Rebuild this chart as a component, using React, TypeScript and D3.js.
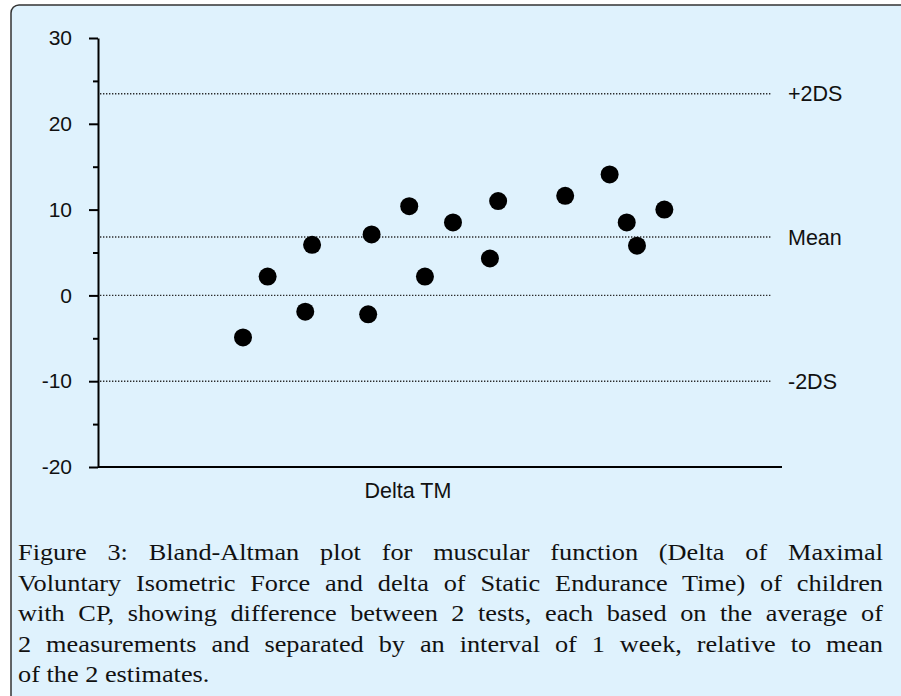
import { useEffect, useRef } from 'react';
import * as d3 from 'd3';

// readings
const diffX = [21.2, 24.8, 30.3, 31.3, 39.5, 40.0, 45.5, 47.8, 51.9, 57.3, 58.5, 68.3, 74.8, 77.3, 78.8, 82.8];
const diffY = [-4.9, 2.2, -1.9, 5.9, -2.2, 7.1, 10.4, 2.2, 8.5, 4.3, 11.0, 11.6, 14.1, 8.5, 5.8, 10.0];

const refNames = ['+2DS', 'Mean', '', '-2DS'];
const refValues = [23.5, 6.8, 0, -10];

const yTicks = [-20, -10, 0, 10, 20, 30];
const yMinor = [-15, -5, 5, 15, 25];

const captionLines = [
  'Figure 3: Bland-Altman plot for muscular function (Delta of Maximal',
  'Voluntary Isometric Force and delta of Static Endurance Time) of children',
  'with CP, showing difference between 2 tests, each based on the average of',
  '2 measurements and separated by an interval of 1 week, relative to mean',
  'of the 2 estimates.',
];

function App() {
  const gy = useRef<SVGGElement>(null);
  const gyMinor = useRef<SVGGElement>(null);
  const caption = useRef<SVGGElement>(null);

  const width = 901;
  const height = 696;

  const marginLeft = 98;
  const marginTop = 38;
  const plotRight = 782;
  const plotBottom = 467;

  const captionLeft = 18;
  const captionWidth = 865;
  const captionStretch = 1.12; // caption font in the original is wider than Times

  const xScale = d3.scaleLinear().domain([0, 100]).range([marginLeft, plotRight]);
  const yScale = d3.scaleLinear().domain([-20, 30]).range([plotBottom, marginTop]);

  useEffect(() => {
    const ax = d3.select(gy.current);
    ax.call(d3.axisLeft(yScale).tickValues(yTicks).tickSize(9).tickPadding(17).tickSizeOuter(0)
      .tickFormat(d => String(d)));
    ax.select('.domain').attr('stroke-width', 2);
    ax.selectAll('.tick line').attr('stroke-width', 2);
    ax.selectAll('.tick text')
      .attr('font-family', 'Liberation Sans, Arial, sans-serif')
      .attr('font-size', 21)
      .attr('fill', '#111');

    const mn = d3.select(gyMinor.current);
    mn.call(d3.axisLeft(yScale).tickValues(yMinor).tickSize(5).tickFormat(() => ''));
    mn.select('.domain').remove();
    mn.selectAll('.tick line').attr('stroke-width', 2);
  }, [yScale]);

  // justify caption lines by widening the word gaps
  useEffect(() => {
    const texts = d3.select(caption.current).selectAll<SVGTextElement, unknown>('text').nodes();
    texts.forEach((node, i) => {
      if (i === texts.length - 1) return;
      const natural = node.getComputedTextLength();
      const gaps = (captionLines[i].match(/ /g) || []).length;
      const extra = (captionWidth / captionStretch - natural) / gaps;
      if (gaps > 0 && extra > 0) node.setAttribute('word-spacing', String(extra));
    });
  }, []);

  return (
    <svg
      width={width}
      height={height}
      viewBox={`0 0 ${width} ${height}`}
      style={{ position: 'absolute', left: 0, top: 0 }}
    >
      <rect x={11} y={5} width={width + 20} height={height + 20} rx={8}
        fill="#dff2fd" stroke="#333" strokeWidth={1.5} />

      {/* reference lines */}
      <g stroke="#222" strokeWidth={1.4} strokeDasharray="1.3 1.7">
        {refValues.map((v, i) => (
          <line key={i} x1={xScale(0.3)} x2={xScale(98.5)} y1={yScale(v)} y2={yScale(v)} />
        ))}
      </g>
      <g fontFamily="Liberation Sans, Arial, sans-serif" fontSize={21.5} fill="#111">
        {refValues.map((v, i) => (
          <text key={i} x={788} y={yScale(v)} dy="0.35em">{refNames[i]}</text>
        ))}
      </g>

      {/* x axis */}
      <line x1={marginLeft} x2={plotRight} y1={plotBottom} y2={plotBottom} stroke="#000" strokeWidth={2} />
      <g ref={gyMinor} transform={`translate(${marginLeft},0)`} />
      <g ref={gy} transform={`translate(${marginLeft},0)`} />

      <text x={408} y={490} dy="0.35em" textAnchor="middle"
        fontFamily="Liberation Sans, Arial, sans-serif" fontSize={21.5} fill="#111">Delta TM</text>

      <g fill="#000">
        {diffX.map((d, i) => (
          <circle key={i} cx={xScale(d)} cy={yScale(diffY[i])} r={9} />
        ))}
      </g>

      {/* caption */}
      <g ref={caption} transform={`translate(${captionLeft},0) scale(${captionStretch},1)`}
        fontFamily="Liberation Serif, serif" fontSize={23.5} fill="#111">
        {captionLines.map((t, i) => (
          <text key={i} x={0} y={560 + i * 30.6}>{t}</text>
        ))}
      </g>
    </svg>
  );
}

export default App;
